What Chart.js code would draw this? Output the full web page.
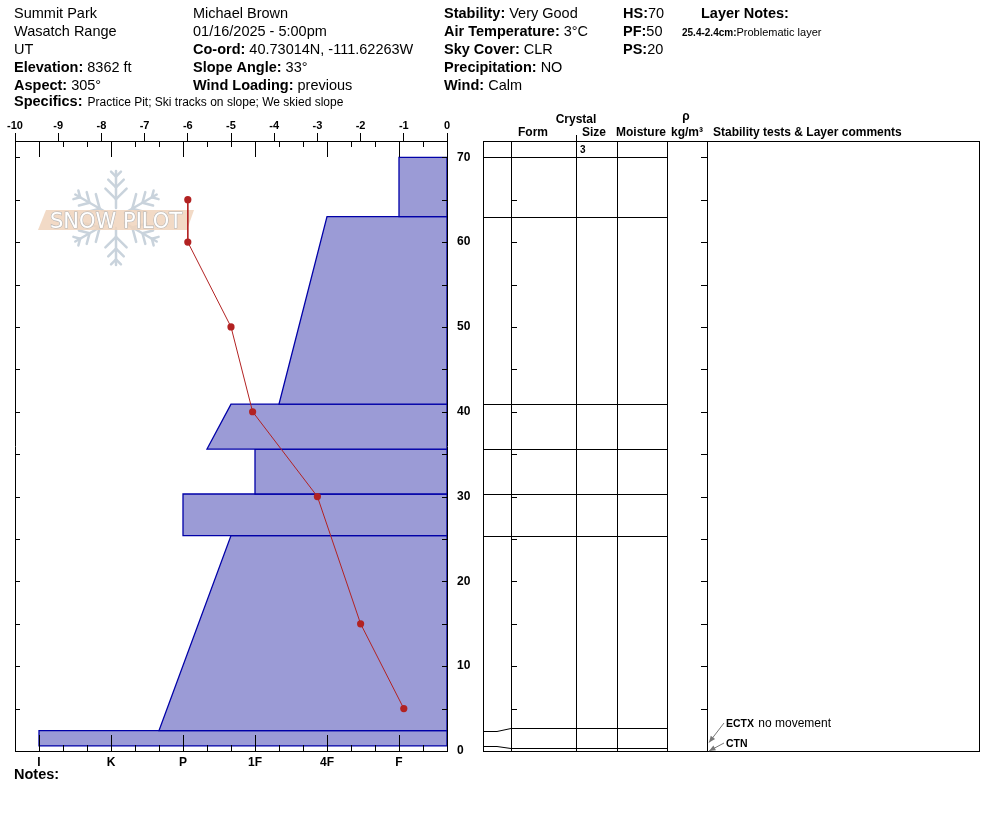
<!DOCTYPE html>
<html>
<head>
<meta charset="utf-8">
<title>Snow pit profile</title>
<script src="https://cdn.jsdelivr.net/npm/chart.js@4.4.1/dist/chart.umd.min.js"></script>
<style>
	html, body { margin: 0; padding: 0; background: #fff; }
	#wrap { width: 994px; height: 840px; }
</style>
</head>
<body>
<div id="wrap"><canvas id="pit" width="994" height="840"></canvas></div>
<script>
// Escala de dureza: o índice é o passo a partir da borda direita
const hardnessCodes = ["", "F-", "F", "F+", "4F-", "4F", "4F+", "1F-", "1F", "1F+", "P-", "P", "P+", "K-", "K", "K+", "I-", "I", "I+"];
const hardnessLabels = ["I", "K", "P", "1F", "4F", "F"];

// Camadas (cm a partir do solo)
const layerTop = [70, 63, 40.9, 35.6, 30.3, 25.4, 2.4];
const layerBottom = [63, 40.9, 35.6, 30.3, 25.4, 2.4, 0.6];
const hardnessTop = ["F", "4F", "1F+", "1F", "P", "1F+", "I"];
const hardnessBottom = ["F", "1F-", "P-", "1F", "P", "P+", "I"];
const crystalSize = ["3", "", "", "", "", "", ""];

// Perfil de temperatura da neve
const tempDepth = [65, 60, 50, 40, 30, 15, 5];
const tempValue = [-6, -6, -5, -4.5, -3, -2, -1];

// Rótulos dos eixos
const tempTicks = [-10, -9, -8, -7, -6, -5, -4, -3, -2, -1, 0];
const depthTicks = [0, 10, 20, 30, 40, 50, 60, 70];

// Testes de estabilidade
const testNames = ["ECTX", "CTN"];
const testComments = ["no movement", ""];
const testDepth = [1, 0];

// Cabeçalho
const siteInfo = [["", "Summit Park"], ["", "Wasatch Range"], ["", "UT"], ["Elevation:", "8362 ft"], ["Aspect:", "305°"]];
const obsInfo = [["", "Michael Brown"], ["", "01/16/2025 - 5:00pm"], ["Co-ord:", "40.73014N, -111.62263W"], ["Slope Angle:", "33°"], ["Wind Loading:", "previous"]];
const weatherInfo = [["Stability:", "Very Good"], ["Air Temperature:", "3°C"], ["Sky Cover:", "CLR"], ["Precipitation:", "NO"], ["Wind:", " Calm"]];
const pitInfo = [["HS:", "70"], ["PF:", "50"], ["PS:", "20"]];
const layerNotes = [["25.4-2.4cm:", "Problematic layer"]];
const specifics = "Practice Pit; Ski tracks on slope; We skied slope";

const FONT = "'Liberation Sans', Arial, sans-serif";
const hx = (code) => hardnessCodes.indexOf(code);

function line(ctx, x1, y1, x2, y2) {
	ctx.beginPath();
	ctx.moveTo(x1, y1);
	ctx.lineTo(x2, y2);
	ctx.stroke();
}

// Texto "rótulo: valor" com rótulo em negrito
function pair(ctx, x, y, label, value, size, valueSize) {
	ctx.font = `bold ${size}px ${FONT}`;
	ctx.fillText(label, x, y);
	let w = label ? ctx.measureText(label).width : 0;
	if (label && !value.startsWith(" ") && label !== "HS:" && label !== "PF:" && label !== "PS:") w += 4;
	ctx.font = `${valueSize || size}px ${FONT}`;
	ctx.fillText(value, x + w, y);
}

function drawLogo(ctx) {
	const cx = 116, cy = 218, r = 47;
	ctx.save();
	ctx.strokeStyle = "#c9d3dc";
	ctx.lineWidth = 2.5;
	ctx.lineCap = "round";
	for (let k = 0; k < 6; k++) {
		const ang = -Math.PI / 2 + (k * Math.PI) / 3;
		const dx = Math.cos(ang), dy = Math.sin(ang);
		line(ctx, cx + dx * 10, cy + dy * 10, cx + dx * r, cy + dy * r);
		[0.4, 0.65, 0.88].forEach((f, j) => {
			const bx = cx + dx * r * f, by = cy + dy * r * f;
			const bl = [15, 11, 7][j];
			[-1, 1].forEach((s) => {
				const a2 = ang + (s * Math.PI) / 4;
				line(ctx, bx, by, bx + Math.cos(a2) * bl, by + Math.sin(a2) * bl);
			});
		});
	}
	ctx.fillStyle = "rgba(240, 212, 188, 0.85)";
	ctx.beginPath();
	ctx.moveTo(46, 210);
	ctx.lineTo(194, 210);
	ctx.lineTo(187, 230);
	ctx.lineTo(38, 230);
	ctx.closePath();
	ctx.fill();
	ctx.font = `21px 'DejaVu Sans', sans-serif`;
	ctx.textAlign = "left";
	ctx.textBaseline = "alphabetic";
	ctx.lineWidth = 1.2;
	ctx.strokeStyle = "#b5b5b5";
	ctx.fillStyle = "#ffffff";
	ctx.strokeText("SNOW PILOT", 50, 228, 137);
	ctx.fillText("SNOW PILOT", 50, 228, 137);
	ctx.restore();
}

function drawHeader(ctx) {
	ctx.fillStyle = "#000";
	ctx.textAlign = "left";
	ctx.textBaseline = "alphabetic";
	const rows = [17.5, 35.5, 53.5, 71.5, 89.5];
	siteInfo.forEach((p, i) => pair(ctx, 14, rows[i], p[0], p[1], 14.5));
	obsInfo.forEach((p, i) => pair(ctx, 193, rows[i], p[0], p[1], 14.5));
	weatherInfo.forEach((p, i) => pair(ctx, 444, rows[i], p[0], p[1], 14.5));
	pitInfo.forEach((p, i) => pair(ctx, 623, rows[i], p[0], p[1], 14.5));
	ctx.font = `bold 14.5px ${FONT}`;
	ctx.fillText("Layer Notes:", 701, rows[0]);
	layerNotes.forEach((n, i) => {
		ctx.font = `bold 10px ${FONT}`;
		ctx.fillText(n[0], 682, rows[1] + i * 14);
		const w = ctx.measureText(n[0]).width;
		ctx.font = `11px ${FONT}`;
		ctx.fillText(n[1], 682 + w, rows[1] + i * 14);
	});
	ctx.font = `bold 14.5px ${FONT}`;
	ctx.fillText("Specifics:", 14, 106);
	const sw = ctx.measureText("Specifics:").width;
	ctx.font = `12px ${FONT}`;
	ctx.fillText(specifics, 14 + sw + 5, 106);
	ctx.font = `bold 14.5px ${FONT}`;
	ctx.fillText("Notes:", 14, 779);
}

function spreadRows(ys, gap) {
	const out = ys.slice();
	for (let i = 1; i < out.length; i++) {
		if (out[i] - out[i - 1] < gap) {
			const mid = (out[i] + out[i - 1]) / 2;
			out[i - 1] = mid - gap / 2;
			out[i] = mid + gap / 2;
		}
	}
	return out;
}

function drawTable(ctx, chart) {
	const y = chart.scales.y;
	const a = chart.chartArea;
	const L = 483, R = 979;
	const cols = [511, 576, 617, 667, 707];
	ctx.save();
	ctx.strokeStyle = "#000";
	ctx.lineWidth = 1;
	ctx.strokeRect(L + 0.5, a.top + 0.5, R - L, a.bottom - a.top);
	cols.forEach((c) => line(ctx, c + 0.5, a.top, c + 0.5, a.bottom));
	line(ctx, 576.5, a.top - 6, 576.5, a.top);

	// Linhas das camadas
	const depths = [...new Set([...layerTop, ...layerBottom])].sort((p, q) => q - p);
	const actual = depths.map((d) => y.getPixelForValue(d));
	const rows = spreadRows(actual, 20);
	depths.forEach((d, i) => {
		const ya = Math.round(actual[i]) + 0.5;
		const yt = Math.round(rows[i]) + 0.5;
		if (Math.abs(ya - yt) < 1) {
			line(ctx, L, ya, 667, ya);
		} else {
			ctx.beginPath();
			ctx.moveTo(L, ya);
			ctx.lineTo(497, ya);
			ctx.lineTo(511, yt);
			ctx.lineTo(667, yt);
			ctx.stroke();
		}
	});

	// Marcas de profundidade dentro da tabela
	for (let d = 5; d <= 70; d += 5) {
		const yy = Math.round(y.getPixelForValue(d)) + 0.5;
		line(ctx, 511, yy, 517, yy);
		line(ctx, 701, yy, 707, yy);
	}

	// Tamanho do cristal
	ctx.fillStyle = "#000";
	ctx.font = `bold 10px ${FONT}`;
	ctx.textAlign = "left";
	crystalSize.forEach((s, i) => {
		if (s) ctx.fillText(s, 580, y.getPixelForValue(layerTop[i]) - 4);
	});

	// Cabeçalho da tabela
	ctx.font = `bold 12px ${FONT}`;
	ctx.textAlign = "center";
	ctx.fillText("Crystal", 576, 123);
	ctx.fillText("Form", 533, 136);
	ctx.fillText("Size", 594, 136);
	ctx.fillText("Moisture", 641, 136);
	ctx.fillText("ρ", 686, 120);
	ctx.fillText("kg/m³", 687, 136);
	ctx.textAlign = "left";
	ctx.fillText("Stability tests & Layer comments", 713, 136);

	// Testes de estabilidade
	testNames.forEach((name, i) => {
		const slot = testNames.length - 1 - i;
		const ty = a.bottom - 4 - slot * 20;
		ctx.fillStyle = "#000";
		ctx.font = `bold 10.5px ${FONT}`;
		ctx.fillText(name, 726, ty);
		const w = ctx.measureText(name).width;
		ctx.font = `12px ${FONT}`;
		if (testComments[i]) ctx.fillText(" " + testComments[i], 726 + w + 1, ty);
		const tipX = 709, tipY = y.getPixelForValue(testDepth[i]);
		const sx = 724, sy = ty - 4;
		ctx.strokeStyle = "#777";
		ctx.fillStyle = "#777";
		line(ctx, sx, sy, tipX, tipY);
		const ang = Math.atan2(tipY - sy, tipX - sx);
		ctx.beginPath();
		ctx.moveTo(tipX, tipY);
		ctx.lineTo(tipX - 7 * Math.cos(ang - 0.4), tipY - 7 * Math.sin(ang - 0.4));
		ctx.lineTo(tipX - 7 * Math.cos(ang + 0.4), tipY - 7 * Math.sin(ang + 0.4));
		ctx.closePath();
		ctx.fill();
	});
	ctx.restore();
}

const pitDecor = {
	id: "pitDecor",
	beforeDatasetsDraw(chart) {
		drawLogo(chart.ctx);
	},
	afterDraw(chart) {
		const { ctx, chartArea: a, scales } = chart;
		const y = scales.y, xh = scales.xh;
		ctx.save();
		ctx.strokeStyle = "#000";
		ctx.lineWidth = 1;
		line(ctx, a.left + 0.5, a.top, a.left + 0.5, a.bottom + 1);
		// Marcas de dureza (em cima e em baixo)
		for (let p = 1; p < 18; p++) {
			const x = Math.round(xh.getPixelForValue(p)) + 0.5;
			const len = p % 3 === 2 ? 16 : 6;
			line(ctx, x, a.top, x, a.top + len);
			line(ctx, x, a.bottom, x, a.bottom - len);
		}
		// Marcas de profundidade
		for (let d = 5; d <= 70; d += 5) {
			const yy = Math.round(y.getPixelForValue(d)) + 0.5;
			line(ctx, a.left, yy, a.left + 5, yy);
			line(ctx, a.right - 5, yy, a.right, yy);
		}
		ctx.restore();
		drawHeader(ctx);
		drawTable(ctx, chart);
	},
};

const layerSets = layerTop.map((top, i) => ({
	label: "layer " + (i + 1),
	xAxisID: "xh",
	yAxisID: "y",
	data: [
		{ x: 0, y: layerBottom[i] },
		{ x: hx(hardnessBottom[i]), y: layerBottom[i] },
		{ x: hx(hardnessTop[i]), y: top },
		{ x: 0, y: top },
		{ x: 0, y: layerBottom[i] },
	],
	showLine: true,
	fill: "shape",
	backgroundColor: "#9b9bd6",
	borderColor: "#0000a8",
	borderWidth: 1.3,
	pointRadius: 0,
	order: 2,
}));

const tempSet = {
	label: "Temperature",
	xAxisID: "x",
	yAxisID: "y",
	data: tempValue.map((t, i) => ({ x: t, y: tempDepth[i] })),
	showLine: true,
	fill: false,
	borderColor: "#b22222",
	borderWidth: 1,
	pointRadius: 3.6,
	pointBackgroundColor: "#b22222",
	pointBorderWidth: 0,
	order: 0,
};

Chart.defaults.font.family = FONT;
Chart.defaults.color = "#000";

new Chart(document.getElementById("pit"), {
	type: "scatter",
	data: { datasets: [tempSet, ...layerSets] },
	options: {
		responsive: false,
		animation: false,
		devicePixelRatio: 1,
		events: [],
		layout: { padding: { left: 15, right: 0, top: 0, bottom: 0 } },
		plugins: { legend: { display: false }, tooltip: { enabled: false } },
		scales: {
			x: {
				type: "linear",
				position: "top",
				min: -10,
				max: 0,
				afterBuildTicks: (s) => {
					s.ticks = tempTicks.map((v) => ({ value: v }));
				},
				ticks: {
					font: { size: 11, weight: "bold" },
					color: "#000",
					padding: 0,
					maxRotation: 0,
					autoSkip: false,
					callback: (v) => String(v),
				},
				grid: { display: true, drawOnChartArea: false, drawTicks: true, tickLength: 8, color: "#000", lineWidth: 1 },
				border: { display: true, color: "#000", width: 1 },
				afterFit: (s) => {
					s.height = 141;
				},
			},
			xh: {
				type: "linear",
				position: "bottom",
				min: 0,
				max: 18,
				reverse: true,
				afterBuildTicks: (s) => {
					s.ticks = hardnessLabels.map((c) => ({ value: hx(c) }));
				},
				ticks: {
					font: { size: 12, weight: "bold" },
					color: "#000",
					padding: 4,
					maxRotation: 0,
					autoSkip: false,
					callback: (v) => hardnessCodes[v],
				},
				grid: { display: false, drawTicks: false },
				border: { display: true, color: "#000", width: 1 },
				afterFit: (s) => {
					s.height = 89;
				},
			},
			y: {
				type: "linear",
				position: "right",
				min: 0,
				max: 71.92,
				afterBuildTicks: (s) => {
					s.ticks = depthTicks.map((v) => ({ value: v }));
				},
				ticks: {
					font: { size: 12, weight: "bold" },
					color: "#000",
					padding: 10,
					autoSkip: false,
				},
				grid: { display: false, drawTicks: false },
				border: { display: true, color: "#000", width: 1 },
				afterFit: (s) => {
					s.width = 547;
				},
			},
		},
	},
	plugins: [pitDecor],
});
</script>
</body>
</html>
